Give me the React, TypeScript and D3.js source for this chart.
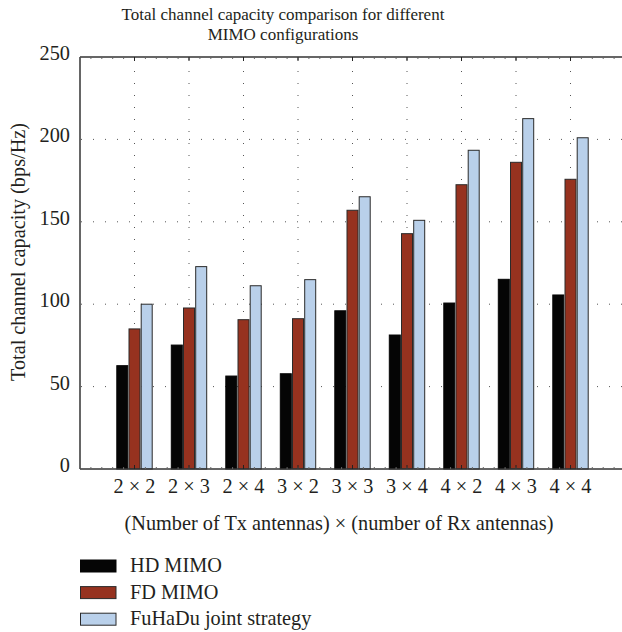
import React from "react";
import * as d3 from "d3";

const categories = ["2 × 2", "2 × 3", "2 × 4", "3 × 2", "3 × 3", "3 × 4", "4 × 2", "4 × 3", "4 × 4"];
const seriesNames = ["HD MIMO", "FD MIMO", "FuHaDu joint strategy"];
const hdMimo = [62.7, 75.2, 56.4, 57.8, 96, 81.3, 100.7, 115.1, 105.6];
const fdMimo = [85, 97.7, 90.6, 91.2, 157, 142.8, 172.5, 186.1, 175.8];
const fuhadu = [100, 122.8, 111.2, 114.9, 165.2, 150.9, 193.4, 212.6, 201];
const yTicks = [0, 50, 100, 150, 200, 250];
const colors = ["#050505", "#96321f", "#b9d0ea"];

const W = 622;
const H = 632;
const FONT = "'Liberation Serif', 'Times New Roman', serif";

export default function App() {
  const left = 80;
  const top = 57;
  const bottom = 469;
  const x = d3.scaleLinear().domain([0, categories.length + 1]).range([left, left + 54.5 * (categories.length + 1)]);
  const y = d3.scaleLinear().domain([0, 250]).range([bottom, top]);
  const series = [hdMimo, fdMimo, fuhadu];
  const barW = 11;
  const offsets = [-12.2, 0, 12.2];
  const xEnd = x(categories.length + 1);
  const minorTicks = d3.range(0, (categories.length + 1) * 5 + 1).map((k) => k / 5);

  return (
    <svg width={W} height={H} style={{ position: "absolute", left: 0, top: 0, background: "#fff" }} fontFamily={FONT}>
      <rect x={0} y={0} width={W} height={H} fill="#fff" />
      {/* title */}
      <text x={283} y={19.5} textAnchor="middle" fontSize={17} fill="#231f20">
        Total channel capacity comparison for different
      </text>
      <text x={283} y={39.5} textAnchor="middle" fontSize={17} fill="#231f20">
        MIMO configurations
      </text>

      {/* horizontal grid */}
      {yTicks.filter((t) => t > 0 && t < 250).map((t) => (
        <line key={"hg" + t} x1={left + 1} x2={xEnd} y1={y(t)} y2={y(t)} stroke="#555" strokeWidth={1} strokeDasharray="1,11" />
      ))}
      {/* vertical grid */}
      {categories.map((c, i) => (
        <line key={"vg" + c} x1={x(i + 1)} x2={x(i + 1)} y1={top + 2} y2={bottom} stroke="#555" strokeWidth={1} strokeDasharray="1,11" />
      ))}

      {/* bars */}
      {categories.map((c, i) =>
        series.map((s, j) => (
          <rect
            key={c + j}
            x={x(i + 1) + offsets[j] - barW / 2}
            y={y(s[i])}
            width={barW}
            height={y(0) - y(s[i])}
            fill={colors[j]}
            stroke={j === 0 ? "#050505" : "#2a2a2a"}
            strokeWidth={1}
          />
        ))
      )}

      {/* axes */}
      <line x1={left} x2={xEnd} y1={top} y2={top} stroke="#333" strokeWidth={1.5} />
      <line x1={left} x2={xEnd} y1={bottom} y2={bottom} stroke="#333" strokeWidth={1.5} />
      <line x1={left} x2={left} y1={top} y2={bottom} stroke="#333" strokeWidth={1.5} />
      {minorTicks.map((m) => (
        <g key={"mt" + m}>
          <line x1={x(m)} x2={x(m)} y1={top} y2={top + 2} stroke="#666" strokeWidth={1} />
          <line x1={x(m)} x2={x(m)} y1={bottom} y2={bottom - 2} stroke="#666" strokeWidth={1} />
        </g>
      ))}
      {categories.map((c, i) => (
        <g key={"t" + c}>
          <line x1={x(i + 1)} x2={x(i + 1)} y1={top} y2={top + 4} stroke="#222" strokeWidth={1} />
          <line x1={x(i + 1)} x2={x(i + 1)} y1={bottom} y2={bottom - 4} stroke="#222" strokeWidth={1} />
        </g>
      ))}

      {/* y tick labels */}
      {yTicks.map((t) => (
        <text key={"yl" + t} x={70} y={y(t) + 3} textAnchor="end" fontSize={20.3} fill="#231f20">
          {t}
        </text>
      ))}
      {/* x tick labels */}
      {categories.map((c, i) => (
        <text key={"xl" + c} x={x(i + 1)} y={493} textAnchor="middle" fontSize={20.3} fill="#231f20">
          {c}
        </text>
      ))}

      {/* axis titles */}
      <text x={339} y={530} textAnchor="middle" fontSize={20.3} fill="#231f20">
        (Number of Tx antennas) × (number of Rx antennas)
      </text>
      <text transform={`translate(25, 252) rotate(-90)`} textAnchor="middle" fontSize={20.3} fill="#231f20">
        Total channel capacity (bps/Hz)
      </text>

      {/* legend */}
      {seriesNames.map((n, j) => (
        <g key={"lg" + n} transform={`translate(80, ${560 + j * 26.6})`}>
          <rect x={0.5} y={0} width={35.5} height={12} fill={colors[j]} stroke={j === 0 ? "#050505" : "#2a2a2a"} strokeWidth={1} />
          <text x={50} y={12} fontSize={20.3} fill="#231f20">
            {n}
          </text>
        </g>
      ))}
    </svg>
  );
}
